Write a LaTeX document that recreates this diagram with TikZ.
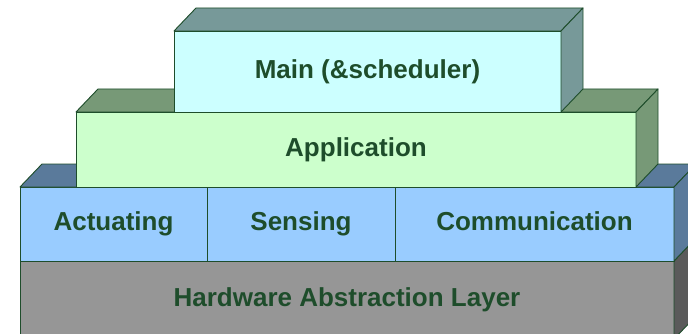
\documentclass[tikz,border=0pt]{standalone}
\usepackage{fontspec}
\setmainfont{Liberation Sans}
\usetikzlibrary{positioning}

\definecolor{edge}{HTML}{1E4D2B}
\definecolor{mainface}{HTML}{CCFFFF}
\definecolor{mainside}{HTML}{779999}
\definecolor{appface}{HTML}{CCFFCC}
\definecolor{appside}{HTML}{779977}
\definecolor{blueface}{HTML}{99CCFF}
\definecolor{blueside}{HTML}{5A7A9B}
\definecolor{halface}{HTML}{969696}
\definecolor{halside}{HTML}{5A5A5A}

\tikzset{
  layer/.style={draw=edge, line width=0.9pt, inner sep=0pt, outer sep=0pt,
    text height=19pt, text depth=5.5pt,
    text=edge, font=\fontsize{26}{30}\selectfont\bfseries},
  face/.style={draw=edge, line width=0.9pt, line join=round}
}

\begin{document}
\begin{tikzpicture}[x=1pt,y=-1pt]
\useasboundingbox (0,0) rectangle (688,334);
\clip (0,0) rectangle (688,334);

\node[layer, fill=halface, minimum width=654pt, minimum height=78pt] (hal) at (347,300) {Hardware Abstraction Layer};
\draw[face, fill=halside] (hal.north east) -- ++(22,-23) -- ++(0,78) -- (hal.south east) -- cycle;

\node[layer, fill=blueface, minimum width=187pt, minimum height=74pt] (act) at (113.5,224) {Actuating};
\node[layer, fill=blueface, minimum width=188pt, minimum height=74pt, right=0pt of act] (sens) {Sensing};
\node[layer, fill=blueface, minimum width=279pt, minimum height=74pt, right=0pt of sens] (comm) {Communication};
\draw[face, fill=blueside] (act.north west) -- ++(22,-23) -- ([xshift=22pt,yshift=23pt]comm.north east) -- (comm.north east) -- cycle;
\draw[face, fill=blueside] (comm.north east) -- ++(22,-23) -- ++(0,74) -- (comm.south east) -- cycle;

\node[layer, fill=appface, minimum width=560pt, minimum height=75pt] (app) at (356,149.5) {Application};
\draw[face, fill=appside] (app.north west) -- ++(22,-23) -- ([xshift=22pt,yshift=23pt]app.north east) -- (app.north east) -- cycle;
\draw[face, fill=appside] (app.north east) -- ++(22,-23) -- ++(0,75) -- (app.south east) -- cycle;

\node[layer, fill=mainface, minimum width=387pt, minimum height=81pt] (main) at (367.5,71.5) {Main (\&scheduler)};
\draw[face, fill=mainside] (main.north west) -- ++(22,-23) -- ([xshift=22pt,yshift=23pt]main.north east) -- (main.north east) -- cycle;
\draw[face, fill=mainside] (main.north east) -- ++(22,-23) -- ++(0,81) -- (main.south east) -- cycle;
\end{tikzpicture}
\end{document}
